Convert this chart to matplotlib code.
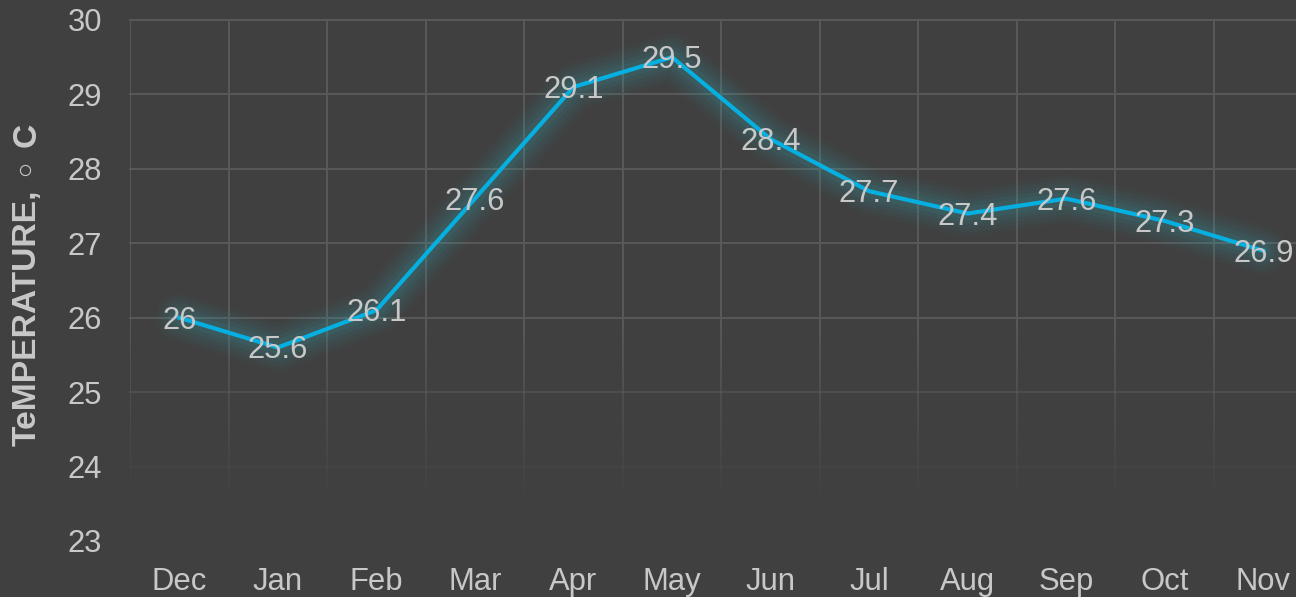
import numpy as np
import matplotlib
matplotlib.use("Agg")
import matplotlib.pyplot as plt
from matplotlib.collections import LineCollection
from matplotlib.transforms import offset_copy

months = ["Dec", "Jan", "Feb", "Mar", "Apr", "May", "Jun", "Jul", "Aug", "Sep", "Oct", "Nov"]
temps = [26.0, 25.6, 26.1, 27.6, 29.1, 29.5, 28.4, 27.7, 27.4, 27.6, 27.3, 26.9]
labels = ["26", "25.6", "26.1", "27.6", "29.1", "29.5", "28.4", "27.7", "27.4", "27.6", "27.3", "26.9"]
yticks = [23, 24, 25, 26, 27, 28, 29, 30]

BG = "#404040"
TXT = "#c8c8c8"
GRID = "#595959"
LINE = "#05b0e0"
GLOW = "#3aa6b4"

plt.rcParams['font.family'] = ['Liberation Sans', 'DejaVu Sans']

W, H = 1296, 597
fig = plt.figure(figsize=(W / 100, H / 100), dpi=100, facecolor=BG)
left = 130 / W
bottom = (H - 541) / H
top = (H - 20) / H
width = 12 * 98.55 / W
ax = fig.add_axes([left, bottom, width, top - bottom], facecolor=BG)

x = np.arange(len(months))
ax.set_xlim(-0.5, 11.5)
ax.set_ylim(23, 30)

def alpha_at(y):
    return float(np.clip((y - 23.5) / 2.5, 0, 1))

# horizontal gridlines with fade
for yv in yticks:
    a = alpha_at(yv)
    if a > 0:
        ax.plot([-0.5, 11.5], [yv, yv], color=GRID, alpha=a, lw=1.4, zorder=1, clip_on=False)

# vertical gridlines with gradient fade
ys = np.linspace(23, 30, 141)
for xv in np.arange(-0.5, 12.0, 1.0):
    segs = [[(xv, ys[i]), (xv, ys[i + 1])] for i in range(len(ys) - 1)]
    cols = [matplotlib.colors.to_rgba(GRID, alpha_at((ys[i] + ys[i + 1]) / 2)) for i in range(len(ys) - 1)]
    ax.add_collection(LineCollection(segs, colors=cols, linewidths=1.4, zorder=1))

# glow
for lw, a in [(34, 0.04), (28, 0.05), (22, 0.06), (16, 0.07), (10, 0.09)]:
    ax.plot(x, temps, color=GLOW, lw=lw, alpha=a, solid_capstyle='round', solid_joinstyle='round', zorder=2)
ax.plot(x, temps, color=LINE, lw=3.0, solid_joinstyle='round', zorder=3)

# data labels, visually centred on the points
trans = offset_copy(ax.transData, fig=fig, x=0, y=-11, units='dots')
for xi, yi, lab in zip(x, temps, labels):
    ax.text(xi, yi, lab, ha='center', va='baseline', color=TXT, fontsize=22.3, zorder=4, transform=trans)

for s in ax.spines.values():
    s.set_visible(False)
ax.set_xticks(x)
ax.set_xticklabels(months)
ax.set_yticks(yticks)
ax.set_yticklabels([str(v) for v in yticks])
ax.tick_params(axis='x', length=0, pad=18.5, labelsize=22.3, labelcolor=TXT)
ax.tick_params(axis='y', length=0, pad=20, labelsize=22.3, labelcolor=TXT)
ax.grid(False)

# y-axis title (three pieces, rotated)
fig.text(27 / W, 1 - 446 / H, "TeMPERATURE,", rotation=90, ha='center', va='bottom',
         color=TXT, fontsize=24.2, fontweight='bold')
fig.text(24 / W, 1 - 165 / H, "\u25e6", rotation=90, ha='center', va='center',
         color=TXT, fontsize=28, fontweight='normal', family='DejaVu Sans')
fig.text(27 / W, 1 - 135 / H, "C", rotation=90, ha='center', va='center',
         color=TXT, fontsize=24.2, fontweight='bold')

fig.savefig("out.png", dpi=100, facecolor=BG)
